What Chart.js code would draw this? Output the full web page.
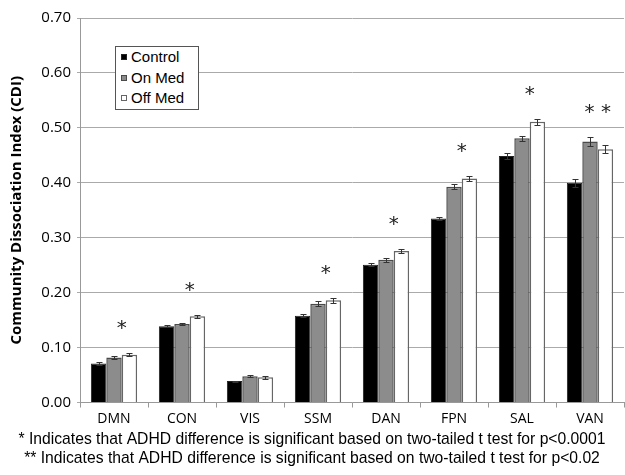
<!DOCTYPE html>
<html>
<head>
<meta charset="utf-8">
<script src="https://cdn.jsdelivr.net/npm/chart.js@4/dist/chart.umd.min.js"></script>
<style>
  html, body { margin: 0; padding: 0; background: #fff; }
  #wrap { position: relative; width: 625px; height: 475px; }
  #leyenda {
    position: absolute; left: 115px; top: 46px; width: 84px; height: 64px;
    border: 1px solid #555; background: #fff;
    font: 15px "Liberation Sans", Arial, sans-serif; color: #000;
    box-sizing: border-box; padding: 0 0 0 5px; line-height: 20.5px;
  }
  #leyenda span.m { display: inline-block; width: 6px; height: 6px; margin-right: 4px; vertical-align: 2px; box-sizing: border-box; }
</style>
</head>
<body>
<div id="wrap">
  <canvas id="grafica" width="625" height="475"></canvas>
  <div id="leyenda"></div>
</div>
<script>
const categorias = ['DMN', 'CON', 'VIS', 'SSM', 'DAN', 'FPN', 'SAL', 'VAN'];
const control = [0.071, 0.139, 0.039, 0.158, 0.251, 0.335, 0.449, 0.400];
const onMed   = [0.082, 0.143, 0.048, 0.180, 0.260, 0.393, 0.481, 0.475];
const offMed  = [0.087, 0.157, 0.046, 0.186, 0.276, 0.408, 0.511, 0.461];
const errControl = [0.003, 0.002, 0.001, 0.003, 0.003, 0.003, 0.005, 0.007];
const errOnMed   = [0.002, 0.002, 0.002, 0.005, 0.004, 0.005, 0.005, 0.008];
const errOffMed  = [0.003, 0.003, 0.003, 0.004, 0.004, 0.004, 0.005, 0.007];
const significancia = ['*', '*', '', '*', '*', '*', '*', '**'];
const notas = [
  '* Indicates that ADHD difference is significant based on two-tailed t test for p<0.0001',
  '** Indicates that ADHD difference is significant based on two-tailed t test for p<0.02'
];

const errores = [errControl, errOnMed, errOffMed];

// barras de error
const pluginErrores = {
  id: 'errores',
  afterDatasetsDraw(chart) {
    const ctx = chart.ctx;
    const y = chart.scales.y;
    ctx.save();
    ctx.strokeStyle = '#333';
    ctx.lineWidth = 1;
    chart.data.datasets.forEach((ds, d) => {
      chart.getDatasetMeta(d).data.forEach((el, i) => {
        const v = ds.data[i], e = errores[d][i];
        const y1 = Math.round(y.getPixelForValue(v + e)) + 0.5;
        const y2 = Math.round(y.getPixelForValue(v - e)) + 0.5;
        const x = Math.round(el.x) + 0.5;
        ctx.beginPath();
        ctx.moveTo(x, y1); ctx.lineTo(x, y2);
        ctx.moveTo(x - 3, y1); ctx.lineTo(x + 3, y1);
        ctx.moveTo(x - 3, y2); ctx.lineTo(x + 3, y2);
        ctx.stroke();
      });
    });
    ctx.restore();
  }
};

// asteriscos de significancia
const pluginAsteriscos = {
  id: 'asteriscos',
  afterDatasetsDraw(chart) {
    const ctx = chart.ctx;
    const y = chart.scales.y;
    const metaOn = chart.getDatasetMeta(1);
    ctx.save();
    ctx.fillStyle = '#222';
    ctx.font = '20px "DejaVu Sans"';
    ctx.textAlign = 'center';
    ctx.textBaseline = 'middle';
    significancia.forEach((s, i) => {
      if (!s) return;
      let max = 0;
      chart.data.datasets.forEach((ds, d) => { max = Math.max(max, ds.data[i] + errores[d][i]); });
      const el = metaOn.data[i];
      const x = el.x + el.width / 2;
      ctx.fillText(s.split('').join(' '), x, y.getPixelForValue(max) - 24);
    });
    ctx.restore();
  }
};

const grafica = new Chart(document.getElementById('grafica').getContext('2d'), {
  type: 'bar',
  data: {
    labels: categorias,
    datasets: [
      { label: 'Control', data: control, backgroundColor: '#000', borderColor: '#222', borderWidth: 1 },
      { label: 'On Med', data: onMed, backgroundColor: '#8c8c8c', borderColor: '#4a4a4a', borderWidth: 1.5 },
      { label: 'Off Med', data: offMed, backgroundColor: '#fff', borderColor: '#666', borderWidth: 1.5 }
    ]
  },
  options: {
    responsive: false,
    animation: false,
    layout: { padding: { top: 18, right: 1, left: 0, bottom: 7 } },
    plugins: {
      legend: { display: false },
      tooltip: { enabled: false },
      title: {
        display: true, position: 'bottom', text: notas, color: '#000',
        font: { family: '"Liberation Sans", Arial', size: 15.7, weight: 'normal' },
        padding: { top: 0, bottom: 0 }, lineHeight: 1.15
      }
    },
    datasets: { bar: { barPercentage: 1, categoryPercentage: 0.68 } },
    scales: {
      x: {
        grid: { drawOnChartArea: false, color: '#999', tickLength: 5, offset: true },
        border: { color: '#999' },
        ticks: { color: '#000', font: { family: '"Open Sans"', size: 14 }, padding: 3 }
      },
      y: {
        min: 0, max: 0.7,
        grid: { color: '#aaa', tickLength: 3 },
        border: { color: '#999' },
        afterFit: s => { s.width = 80; },
        ticks: {
          stepSize: 0.1, color: '#000', padding: 6,
          font: { family: '"Open Sans"', size: 15 },
          callback: v => v.toFixed(2)
        },
        title: {
          display: true, text: 'Community Dissociation Index (CDI)', color: '#000',
          font: { family: '"Open Sans"', size: 15, weight: 'bold' }, padding: { top: 8, bottom: 0 }
        }
      }
    }
  },
  plugins: [pluginErrores, pluginAsteriscos]
});

// leyenda
const leyenda = document.getElementById('leyenda');
grafica.data.datasets.forEach(ds => {
  const fila = document.createElement('div');
  fila.innerHTML = `<span class="m" style="background:${ds.backgroundColor};border:1px solid ${ds.borderColor}"></span>${ds.label}`;
  leyenda.appendChild(fila);
});
</script>
</body>
</html>
